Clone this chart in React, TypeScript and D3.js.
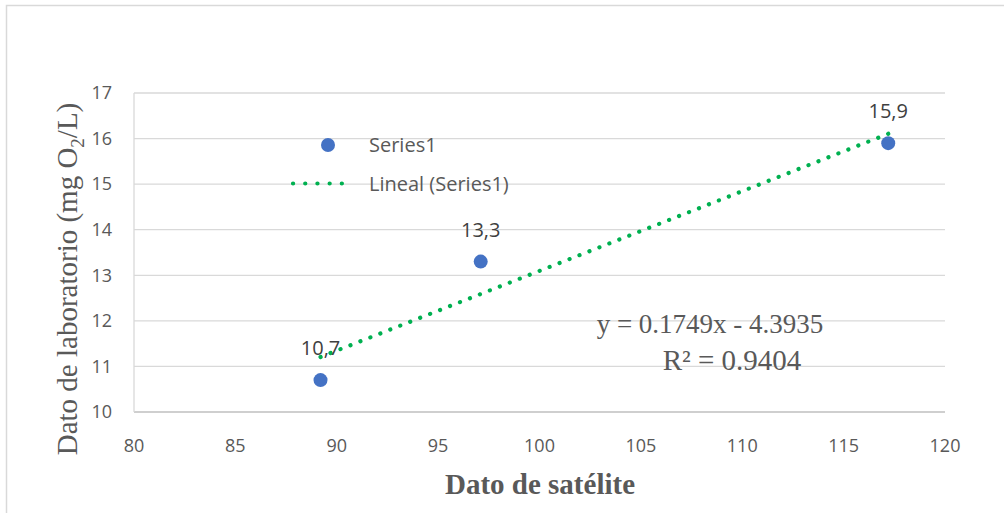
import React from 'react'
import * as d3 from 'd3'

const satelite = [89.2, 97.1, 117.2]
const laboratorio = [10.7, 13.3, 15.9]
const pointLabels = ['10,7', '13,3', '15,9']
const xTicks = [80, 85, 90, 95, 100, 105, 110, 115, 120]
const yTicks = [10, 11, 12, 13, 14, 15, 16, 17]
const slope = 0.1749
const intercept = -4.3935

const W = 1004
const H = 513
const margin = { top: 93, right: 59, bottom: 101, left: 134 }

const App = () => {
  const x = d3.scaleLinear().domain([80, 120]).range([margin.left, W - margin.right])
  const y = d3.scaleLinear().domain([10, 17]).range([H - margin.bottom, margin.top])

  const xMin = d3.min(satelite) as number
  const xMax = d3.max(satelite) as number
  const trend = d3.line<number>()
    .x((d) => x(d))
    .y((d) => y(slope * d + intercept))([xMin, xMax]) as string

  const tickFont = 'Open Sans, Noto Sans, sans-serif'
  const serif = 'Liberation Serif, DejaVu Serif, serif'

  return (
    <svg width={W} height={H} style={{ position: 'fixed', left: 0, top: 0, background: '#fff' }}>
      <rect x={6.5} y={5.5} width={1010} height={520} fill="#fff" stroke="#d9d9d9" strokeWidth={1.5} />

      {/* grid */}
      {yTicks.map((t) => (
        <line key={`g${t}`} x1={x(80)} x2={x(120)} y1={y(t)} y2={y(t)}
          stroke={t === 10 ? '#bfbfbf' : '#d9d9d9'} strokeWidth={1.3} />
      ))}
      <line x1={x(80)} x2={x(80)} y1={y(10)} y2={y(17)} stroke="#d9d9d9" strokeWidth={1.3} />

      {/* y ticks */}
      {yTicks.map((t) => (
        <text key={`y${t}`} x={x(80) - 22} y={y(t)} dy="0.35em" textAnchor="end"
          fontFamily={tickFont} fontSize={18} fill="#595959">{t}</text>
      ))}
      {/* x ticks */}
      {xTicks.map((t) => (
        <text key={`x${t}`} x={x(t)} y={y(10) + 40} textAnchor="middle"
          fontFamily={tickFont} fontSize={18} fill="#595959">{t}</text>
      ))}

      {/* trendline */}
      <path d={trend} fill="none" stroke="#00b050" strokeWidth={4.2}
        strokeLinecap="round" strokeDasharray="0.1 10.6" />

      {/* points */}
      {satelite.map((v, i) => (
        <g key={`p${i}`}>
          <circle cx={x(v)} cy={y(laboratorio[i])} r={7} fill="#4472c4" />
          <text x={x(v)} y={y(laboratorio[i]) - 25} textAnchor="middle"
            fontFamily={tickFont} fontSize={20} fill="#404040">{pointLabels[i]}</text>
        </g>
      ))}

      {/* legend */}
      <circle cx={328} cy={145} r={7} fill="#4472c4" />
      <text x={369} y={145} dy="0.35em" fontFamily={tickFont} fontSize={20} fill="#595959">Series1</text>
      <line x1={293} x2={354} y1={183.5} y2={183.5} stroke="#00b050" strokeWidth={4.2}
        strokeLinecap="round" strokeDasharray="0.1 12.1" />
      <text x={369} y={184} dy="0.35em" fontFamily={tickFont} fontSize={20} fill="#595959">Lineal (Series1)</text>

      {/* equation */}
      <text x={710} y={333} textAnchor="middle" fontFamily={serif} fontSize={27} fill="#595959">
        y = 0.1749x - 4.3935
      </text>
      <text x={732} y={370} textAnchor="middle" fontFamily={serif} fontSize={29} fill="#595959">
        R² = 0.9404
      </text>

      {/* axis titles */}
      <text x={540} y={494} textAnchor="middle" fontFamily={serif} fontSize={29} fontWeight="bold" fill="#595959">
        Dato de satélite
      </text>
      <text transform="translate(77,279) rotate(-90)" textAnchor="middle" fontFamily={serif} fontSize={29} fill="#595959">
        Dato de laboratorio (mg O<tspan fontSize={19} dy={7}>2</tspan><tspan dy={-7}>/L)</tspan>
      </text>
    </svg>
  )
}

export default App
